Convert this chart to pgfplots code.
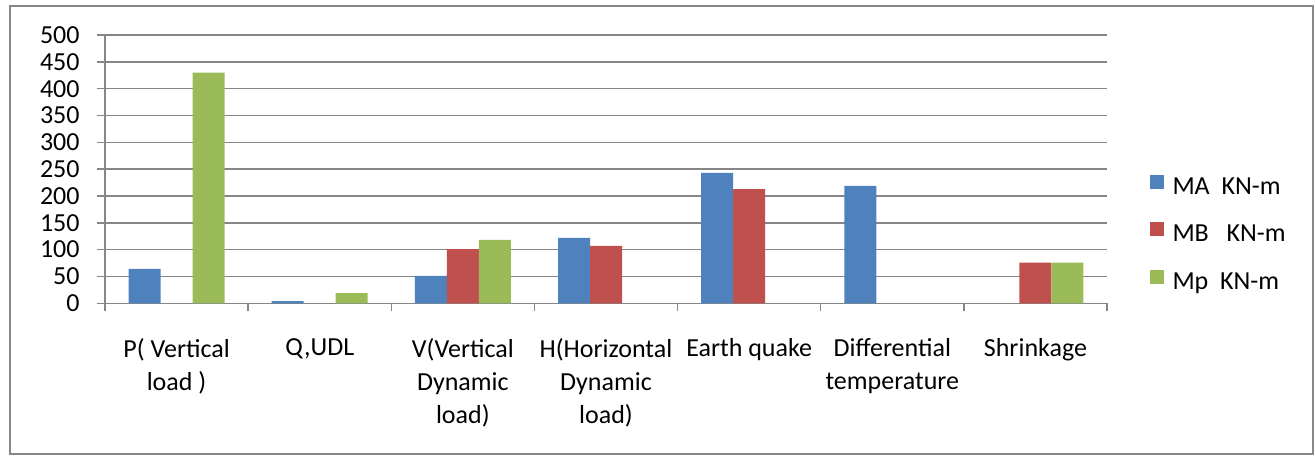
\documentclass[border=0pt]{standalone}
\usepackage{pgfplots}
\pgfplotsset{compat=1.18}
\usepackage{fontspec}
\setmainfont{Carlito}
\definecolor{cA}{HTML}{4F81BD}
\definecolor{cB}{HTML}{C0504D}
\definecolor{cC}{HTML}{9BBB59}
\definecolor{gridc}{HTML}{868686}
\begin{document}
\begin{tikzpicture}
\useasboundingbox (-52.5pt,-75.85pt) rectangle (605pt,151.65pt);
\draw[gridc, line width=1pt] (-47.5pt,-75.35pt) rectangle (604pt,148.65pt);
\begin{axis}[
  at={(0pt,0pt)}, anchor=south west,
  scale only axis, width=501pt, height=134.15pt,
  xmin=-0.5, xmax=6.5, ymin=0, ymax=500,
  ybar, bar width=16pt,
  axis x line=bottom, axis y line=left,
  axis line style={-, gridc, line width=0.75pt},
  ytick={0,50,...,500},
  xtick={0,...,6},
  xticklabels={{P( Vertical\\load )},{Q,UDL},{V(Vertical\\Dynamic\\load)},{H(Horizontal\\Dynamic\\load)},{Earth quake},{Differential\\temperature},{Shrinkage}},
  minor xtick={-0.5,0.5,...,6.5},
  tick align=outside,
  major tick length=4pt, minor tick length=4pt,
  major x tick style={draw=none},
  minor x tick style={draw=gridc, line width=0.75pt},
  ytick style={draw=gridc, line width=0.75pt},
  ymajorgrids,
  major grid style={gridc, line width=0.75pt},
  /pgf/number format/assume math mode=true,
  tick label style={font=\fontsize{13}{16.5}\selectfont},
  yticklabel style={inner sep=0pt, anchor=east, xshift=-8.5pt},
  xticklabel style={inner sep=0pt, anchor=north, align=center, yshift=-13.5pt},
  legend style={draw=none, fill=none, at={(1.042,0.2538)}, anchor=west,
    inner sep=0pt, row sep=11.2pt,
    font=\fontsize{13}{16}\selectfont,
    nodes={inner sep=0pt, text height=9.5pt, text depth=3pt},
    /tikz/every odd column/.append style={column sep=4.5pt}},
  legend cell align=left,
  legend image code/.code={\fill[#1] (0pt,-0.5pt) rectangle (7pt,6.5pt);},
]
\addplot[fill=cA, draw=none, bar shift=-16pt] coordinates {(0,64) (1,4) (2,51) (3,122) (4,243) (5,219)};
\addplot[fill=cB, draw=none, bar shift=0pt] coordinates {(2,101) (3,107) (4,213) (6,76)};
\addplot[fill=cC, draw=none, bar shift=16pt] coordinates {(0,430) (1,19) (2,118) (6,76)};
\legend{MA\ \ KN-m, MB\ \ \ KN-m, Mp\ \ KN-m}
\end{axis}
\end{tikzpicture}
\end{document}
